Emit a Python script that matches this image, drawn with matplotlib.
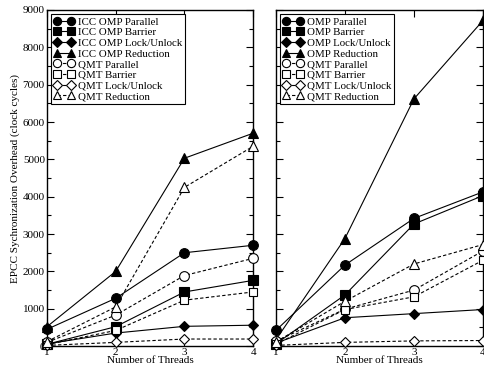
import matplotlib.pyplot as plt
from matplotlib.ticker import MultipleLocator

plt.rcParams['font.family'] = ['Liberation Serif', 'DejaVu Serif']

threads = [1, 2, 3, 4]

# left panel: ICC OpenMP vs QMT
icc_parallel = [450, 1280, 2500, 2700]
icc_barrier = [50, 520, 1450, 1760]
icc_lock = [60, 350, 530, 560]
icc_reduction = [520, 2000, 5030, 5700]
qmt_parallel_l = [100, 830, 1890, 2350]
qmt_barrier_l = [40, 420, 1230, 1450]
qmt_lock_l = [20, 100, 190, 190]
qmt_reduction_l = [120, 1050, 4250, 5350]

# right panel: OMP vs QMT
omp_parallel = [420, 2170, 3420, 4130]
omp_barrier = [60, 1370, 3270, 4030]
omp_lock = [80, 760, 870, 980]
omp_reduction = [170, 2880, 6620, 8720]
qmt_parallel_r = [130, 990, 1500, 2550]
qmt_barrier_r = [50, 980, 1320, 2300]
qmt_lock_r = [20, 100, 140, 150]
qmt_reduction_r = [110, 1200, 2200, 2720]

left_labels = ["ICC OMP Parallel", "ICC OMP Barrier", "ICC OMP Lock/Unlock", "ICC OMP Reduction",
               "QMT Parallel", "QMT Barrier", "QMT Lock/Unlock", "QMT Reduction"]
right_labels = ["OMP Parallel", "OMP Barrier", "OMP Lock/Unlock", "OMP Reduction",
                "QMT Parallel", "QMT Barrier", "QMT Lock/Unlock", "QMT Reduction"]

markers = ["o", "s", "D", "^", "o", "s", "D", "^"]
sizes = [7, 6.5, 5.5, 7, 7, 6, 5.5, 7]

fig = plt.figure(figsize=(4.84, 3.69), dpi=100)
ax1 = fig.add_axes([0.097, 0.062, 0.426, 0.911])
ax2 = fig.add_axes([0.570, 0.062, 0.428, 0.911])


def draw(ax, series, labels):
    for i, (vals, lab) in enumerate(zip(series, labels)):
        filled = i < 4
        ax.plot(threads, vals, marker=markers[i], ms=sizes[i], color="black", lw=0.8,
                ls="-" if filled else (0, (3, 2)),
                mfc="black" if filled else "white", mec="black", mew=0.8,
                label=lab, clip_on=False, zorder=3)
    ax.set_xlim(1, 4)
    ax.set_ylim(0, 9000)
    ax.set_xticks(threads)
    ax.yaxis.set_major_locator(MultipleLocator(1000))
    ax.yaxis.set_minor_locator(MultipleLocator(500))
    ax.tick_params(which="both", direction="in", top=True, right=True, labelsize=8, pad=1.5)
    ax.tick_params(which="major", length=5, width=0.8)
    ax.tick_params(which="minor", length=3, width=0.8)
    for s in ax.spines.values():
        s.set_linewidth(1.0)
    ax.set_xlabel("Number of Threads", fontsize=8, labelpad=-1)
    leg = ax.legend(loc="upper left", fontsize=7.8, frameon=True, fancybox=False,
                    edgecolor="black", framealpha=1, borderpad=0.25, labelspacing=0.1,
                    handlelength=1.9, handletextpad=0.3, borderaxespad=0.4, numpoints=2,
                    markerscale=0.85)
    leg.get_frame().set_linewidth(0.8)


draw(ax1, [icc_parallel, icc_barrier, icc_lock, icc_reduction,
           qmt_parallel_l, qmt_barrier_l, qmt_lock_l, qmt_reduction_l], left_labels)
draw(ax2, [omp_parallel, omp_barrier, omp_lock, omp_reduction,
           qmt_parallel_r, qmt_barrier_r, qmt_lock_r, qmt_reduction_r], right_labels)

ax1.set_ylabel("EPCC Sychronization Overhead (clock cycles)", fontsize=8, labelpad=2)
ax2.set_yticklabels([])

fig.savefig("out.png", dpi=100)
